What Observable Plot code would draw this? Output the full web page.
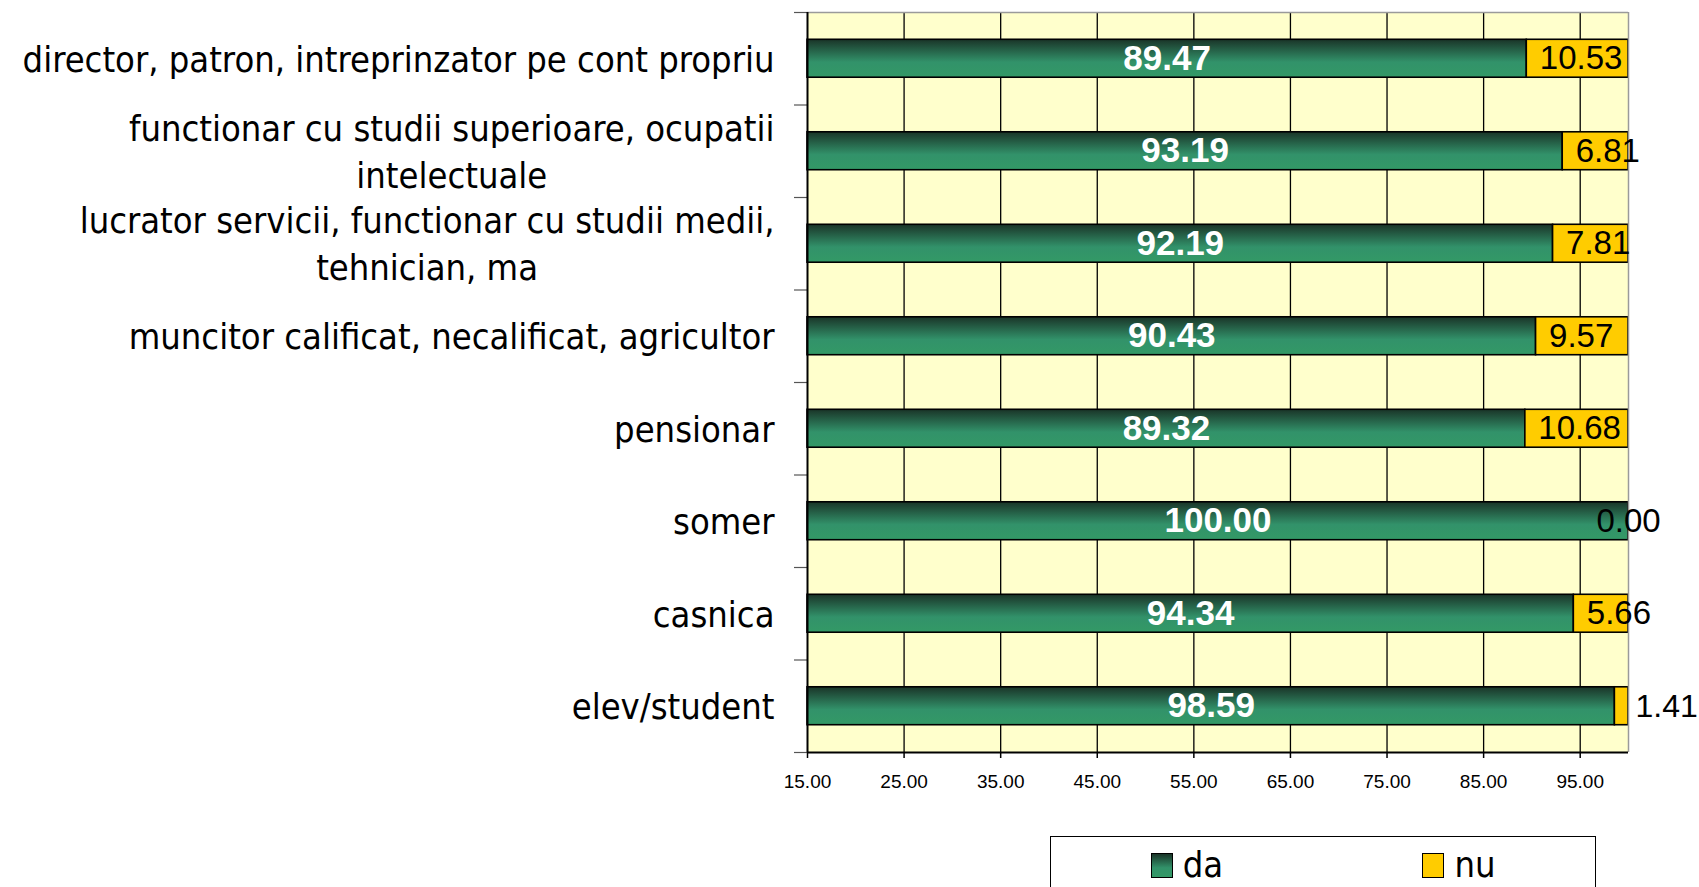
<!DOCTYPE html>
<html>
<head>
<meta charset="utf-8">
<script src="https://cdn.jsdelivr.net/npm/d3@7"></script>
<script src="https://cdn.jsdelivr.net/npm/@observablehq/plot@0.6"></script>
<style>
  html, body { margin: 0; padding: 0; background: #fff; overflow: hidden; }
  #chart { position: absolute; left: 0; top: 0; }
  #legend {
    position: absolute; left: 1050px; top: 836px; width: 544px; height: 120px;
    border: 1.5px solid #000; background: #fff; display: flex; align-items: flex-start;
    font-family: 'Liberation Sans Narrow', 'Arial Narrow', 'DejaVu Sans Condensed', sans-serif;
    font-size: 36px; line-height: 1; color: #000;
  }
  #legend .item { flex: 1; display: flex; justify-content: center; align-items: center; height: 56px; gap: 10px; }
  #legend .sw { width: 22px; height: 25px; border: 1.5px solid #000; box-sizing: border-box; }
</style>
</head>
<body>
<div id="chart"></div>
<div id="legend"></div>
<script>
// ---- data ----
const categories = [
  "director, patron, intreprinzator pe cont propriu",
  "functionar cu studii superioare, ocupatii intelectuale",
  "lucrator servicii, functionar cu studii medii, tehnician, ma",
  "muncitor calificat, necalificat, agricultor",
  "pensionar",
  "somer",
  "casnica",
  "elev/student"
];
const categoryLines = [
  ["director, patron, intreprinzator pe cont propriu"],
  ["functionar cu studii superioare, ocupatii", "intelectuale"],
  ["lucrator servicii, functionar cu studii medii,", "tehnician, ma"],
  ["muncitor calificat, necalificat, agricultor"],
  ["pensionar"],
  ["somer"],
  ["casnica"],
  ["elev/student"]
];
const daValues = [89.47, 93.19, 92.19, 90.43, 89.32, 100.00, 94.34, 98.59];
const nuValues = [10.53, 6.81, 7.81, 9.57, 10.68, 0.00, 5.66, 1.41];
const xTickValues = [15, 25, 35, 45, 55, 65, 75, 85, 95];
const xDomain = [15, 100];
const seriesNames = ["da", "nu"];

// ---- styles ----
const GREEN_TOP = "#1a3428", GREEN_MID = "#32926a", GREEN_BOT = "#339966";
const YELLOW = "#ffcc00";
const BG = "#ffffcc";
const BAR = 0.41; // fraction of band occupied by bar
const labelFont = "'DejaVu Sans Condensed', 'DejaVu Sans', sans-serif";
const labelSize = 36;
const numFont = "'Liberation Sans', Arial, sans-serif";

const rows = categories.map((c, i) => ({
  i, category: c, label: categoryLines[i].join("\n"), da: daValues[i], nu: nuValues[i]
}));
const n = rows.length;
const xMin = xDomain[0], xMax = xDomain[1];

// measure widest line of each category label
const ctx = document.createElement("canvas").getContext("2d");
ctx.font = `${labelSize}px ${labelFont}`;
const labelWidths = categoryLines.map(lines => d3.max(lines, l => ctx.measureText(l).width));
const GAP = 33;

const yLabelMarks = rows.map((r, k) => Plot.text([r], {
  frameAnchor: "left", y: d => d.i + 0.5, text: "label",
  textAnchor: "middle", dx: -(GAP + labelWidths[k] / 2), dy: -2,
  lineHeight: 1.3, fontSize: labelSize, fontFamily: labelFont, fill: "#000"
}));

const plot = Plot.plot({
  width: 1699,
  height: 800,
  marginLeft: 807,
  marginRight: 71,
  marginTop: 12,
  marginBottom: 48,
  style: { fontFamily: numFont, background: "transparent", overflow: "visible", color: "#000" },
  x: { domain: xDomain, label: null },
  y: { domain: [0, n], reverse: true, label: null },
  marks: [
    Plot.frame({ fill: BG, stroke: "none" }),
    Plot.ruleX(xTickValues.slice(1), { stroke: "#000", strokeWidth: 1.3 }),
    Plot.rectX(rows, {
      x1: xMin, x2: "da",
      y1: d => d.i + (1 - BAR) / 2, y2: d => d.i + (1 + BAR) / 2,
      fill: "url(#gradDa)", stroke: "#000", strokeWidth: 1.6
    }),
    Plot.rectX(rows.filter(d => d.nu > 0), {
      x1: "da", x2: d => d.da + d.nu,
      y1: d => d.i + (1 - BAR) / 2, y2: d => d.i + (1 + BAR) / 2,
      fill: YELLOW, stroke: "#000", strokeWidth: 1.6
    }),
    // borders and axes
    Plot.ruleY([0], { stroke: "#9a9a9a", strokeWidth: 1.5 }),
    Plot.ruleX([xMax], { stroke: "#9a9a9a", strokeWidth: 1.5 }),
    Plot.axisY({ ticks: d3.range(0, n + 1), tickSize: 13, tickFormat: () => "", stroke: "#555", strokeWidth: 1.2, label: null }),
    Plot.ruleX([xMin], { stroke: "#000", strokeWidth: 2 }),
    Plot.ruleY([n], { stroke: "#000", strokeWidth: 2 }),
    Plot.axisX({ ticks: xTickValues, tickFormat: d => d.toFixed(2), tickSize: 6, tickPadding: 16, fontSize: 19, stroke: "#000", strokeWidth: 1.5, label: null }),
    // value labels: da
    Plot.text(rows, {
      x: d => (xMin + d.da) / 2, y: d => d.i + 0.5, text: d => d.da.toFixed(2),
      fill: "#fff", fontWeight: "bold", fontSize: 35, fontFamily: numFont
    }),
    // value labels: nu (inside yellow segment)
    Plot.text(rows.filter(d => d.nu >= 3), {
      x: "da", y: d => d.i + 0.5, text: d => d.nu.toFixed(2),
      textAnchor: "start", dx: 13, fill: "#000", fontSize: 33, fontFamily: numFont
    }),
    Plot.text(rows.filter(d => d.nu === 0), {
      x: d => d.da + d.nu, y: d => d.i + 0.5, text: d => d.nu.toFixed(2),
      textAnchor: "middle", fill: "#000", fontSize: 33, fontFamily: numFont
    }),
    Plot.text(rows.filter(d => d.nu > 0 && d.nu < 3), {
      x: d => d.da + d.nu, y: d => d.i + 0.5, text: d => d.nu.toFixed(2),
      textAnchor: "start", dx: 7, fill: "#000", fontSize: 32, fontFamily: numFont
    }),
    ...yLabelMarks
  ]
});

// gradient for "da" bars
const svg = d3.select(plot);
const defs = svg.insert("defs", ":first-child");
const grad = defs.append("linearGradient").attr("id", "gradDa")
  .attr("x1", 0).attr("y1", 0).attr("x2", 0).attr("y2", 1);
grad.append("stop").attr("offset", "0%").attr("stop-color", GREEN_TOP);
grad.append("stop").attr("offset", "60%").attr("stop-color", GREEN_MID);
grad.append("stop").attr("offset", "100%").attr("stop-color", GREEN_BOT);

document.getElementById("chart").appendChild(plot);

// legend
const legend = d3.select("#legend");
const swatchFill = {
  da: `linear-gradient(to bottom, ${GREEN_TOP} 0%, ${GREEN_MID} 60%, ${GREEN_BOT} 100%)`,
  nu: YELLOW
};
seriesNames.forEach(s => {
  const it = legend.append("div").attr("class", "item");
  it.append("div").attr("class", "sw").style("background", swatchFill[s]);
  it.append("span").text(s);
});
</script>
</body>
</html>
